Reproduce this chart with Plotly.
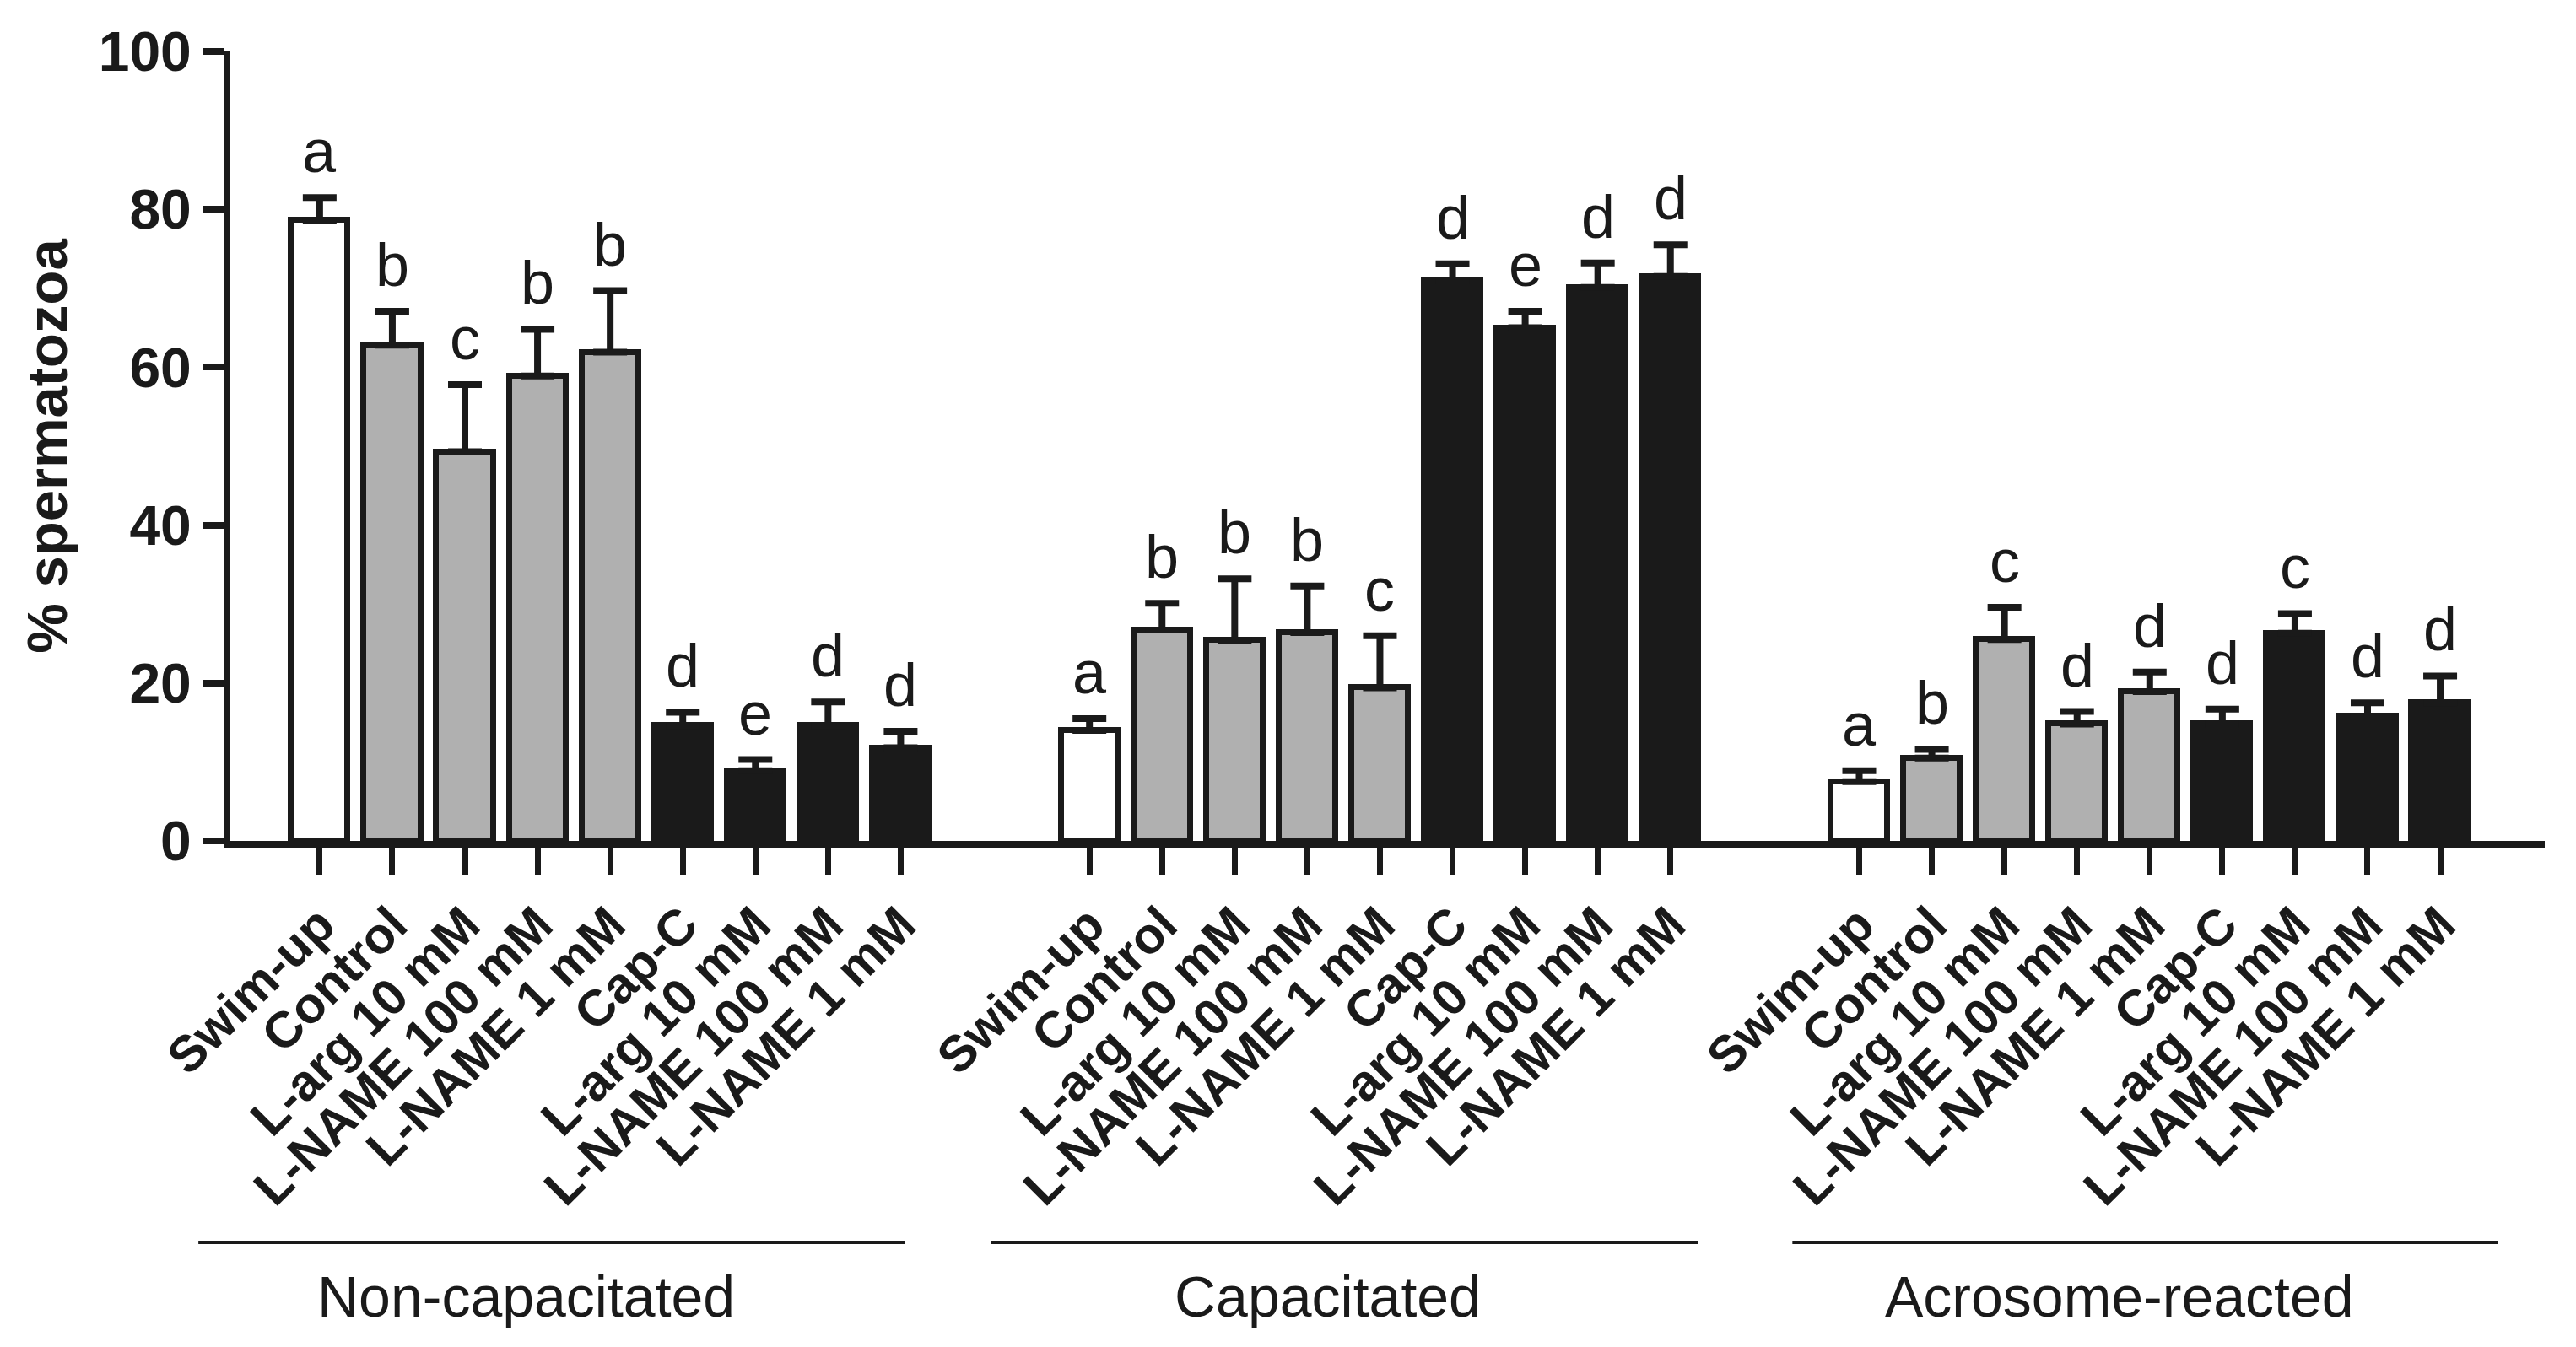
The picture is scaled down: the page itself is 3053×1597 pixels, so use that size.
import plotly.graph_objects as go

# ---------------- data ----------------
GROUPS = ["Non-capacitated", "Capacitated", "Acrosome-reacted"]
CATEGORIES = ["Swim-up", "Control", "L-arg 10 mM", "L-NAME 100 mM", "L-NAME 1 mM",
              "Cap-C", "L-arg 10 mM", "L-NAME 100 mM", "L-NAME 1 mM"]

NONCAP_MEAN = [78.6, 62.8, 49.3, 58.9, 61.9, 14.6, 8.9, 14.6, 11.8]
NONCAP_SEM = [2.9, 4.3, 8.5, 5.9, 7.8, 1.7, 1.4, 3.0, 2.1]
NONCAP_LETTERS = ["a", "b", "c", "b", "b", "d", "e", "d", "d"]

CAP_MEAN = [14.0, 26.7, 25.4, 26.4, 19.4, 71.0, 65.0, 70.1, 71.5]
CAP_SEM = [1.5, 3.4, 7.8, 5.9, 6.6, 2.1, 2.1, 3.1, 4.0]
CAP_LETTERS = ["a", "b", "b", "b", "c", "d", "e", "d", "d"]

AR_MEAN = [7.5, 10.5, 25.5, 14.8, 18.9, 14.8, 26.3, 15.8, 17.5]
AR_SEM = [1.4, 1.1, 4.1, 1.6, 2.5, 1.9, 2.5, 1.7, 3.4]
AR_LETTERS = ["a", "b", "c", "d", "d", "d", "c", "d", "d"]

Y_TICKS = [0, 20, 40, 60, 80, 100]
Y_TITLE = "% spermatozoa"

# ---------------- layout / style constants ----------------
GROUP_STRIDE = 10.6
X_RANGE = [-1.23, 30.64]
LINE_SPANS = [(-1.67, 8.06), (-1.36, 8.38), (-0.92, 8.80)]
LABEL_X = [2.84, 3.28, 3.58]
CAT_COLORS = ["#ffffff", "#b0b0b0", "#b0b0b0", "#b0b0b0", "#b0b0b0",
              "#1a1a1a", "#1a1a1a", "#1a1a1a", "#1a1a1a"]
INK = "#1a1a1a"
FONT = "Arial, Liberation Sans, sans-serif"

means = [NONCAP_MEAN, CAP_MEAN, AR_MEAN]
sems = [NONCAP_SEM, CAP_SEM, AR_SEM]
letters = [NONCAP_LETTERS, CAP_LETTERS, AR_LETTERS]

xs, ys, es, cols, labels, lets = [], [], [], [], [], []
for g in range(len(GROUPS)):
    for i, cat in enumerate(CATEGORIES):
        xs.append(g * GROUP_STRIDE + i)
        ys.append(means[g][i])
        es.append(sems[g][i])
        cols.append(CAT_COLORS[i])
        labels.append(cat)
        lets.append(letters[g][i])


def to_paper(xd):
    return (xd - X_RANGE[0]) / (X_RANGE[1] - X_RANGE[0])


fig = go.Figure()
fig.add_trace(go.Bar(
    x=xs, y=ys, width=0.78,
    marker=dict(color=cols, line=dict(color=INK, width=7)),
    error_y=dict(type="data", symmetric=False, array=es,
                 arrayminus=[0] * len(es), color=INK, thickness=8, width=20),
    showlegend=False, hoverinfo="skip",
))

annotations = []
for x, y, e, t in zip(xs, ys, es, lets):
    annotations.append(dict(x=x, y=y + e, xref="x", yref="y", text=t,
                            showarrow=False, yanchor="bottom", yshift=13,
                            font=dict(family=FONT, size=72, color=INK)))

LINE_Y = -0.5085
LABEL_Y = -0.5766
shapes = []
for g, name in enumerate(GROUPS):
    x0 = g * GROUP_STRIDE
    shapes.append(dict(type="line", xref="paper", yref="paper",
                       x0=to_paper(x0 + LINE_SPANS[g][0]),
                       x1=to_paper(x0 + LINE_SPANS[g][1]),
                       y0=LINE_Y, y1=LINE_Y, line=dict(color=INK, width=4)))
    annotations.append(dict(x=x0 + LABEL_X[g], y=LABEL_Y, xref="x", yref="paper",
                            text=name, showarrow=False, yanchor="middle",
                            font=dict(family=FONT, size=68, color=INK)))

fig.update_layout(
    width=3053, height=1597,
    margin=dict(l=273, r=37, t=61, b=600),
    paper_bgcolor="white", plot_bgcolor="white",
    font=dict(family=FONT, color=INK),
    annotations=annotations, shapes=shapes,
    bargap=0,
)
fig.update_xaxes(
    range=X_RANGE, tickmode="array", tickvals=xs, ticktext=labels,
    tickangle=-45, ticks="outside", ticklen=32, tickwidth=7, tickcolor=INK,
    showline=True, linewidth=8, linecolor=INK, showgrid=False, zeroline=False,
    tickfont=dict(family=FONT, size=60, color=INK, weight="bold"),
)
fig.update_yaxes(
    range=[0, 100], tickmode="array", tickvals=Y_TICKS,
    ticks="outside", ticklen=25, tickwidth=8, tickcolor=INK,
    showline=True, linewidth=8, linecolor=INK, showgrid=False, zeroline=False,
    tickfont=dict(family=FONT, size=66, color=INK, weight="bold"),
    title=dict(text=Y_TITLE, standoff=18,
               font=dict(family=FONT, size=67, color=INK, weight="bold")),
)

fig.write_html("out.html",
               config={"displayModeBar": False},
               post_script="document.body.style.margin='0px';"
                           "document.body.style.overflow='hidden';")
